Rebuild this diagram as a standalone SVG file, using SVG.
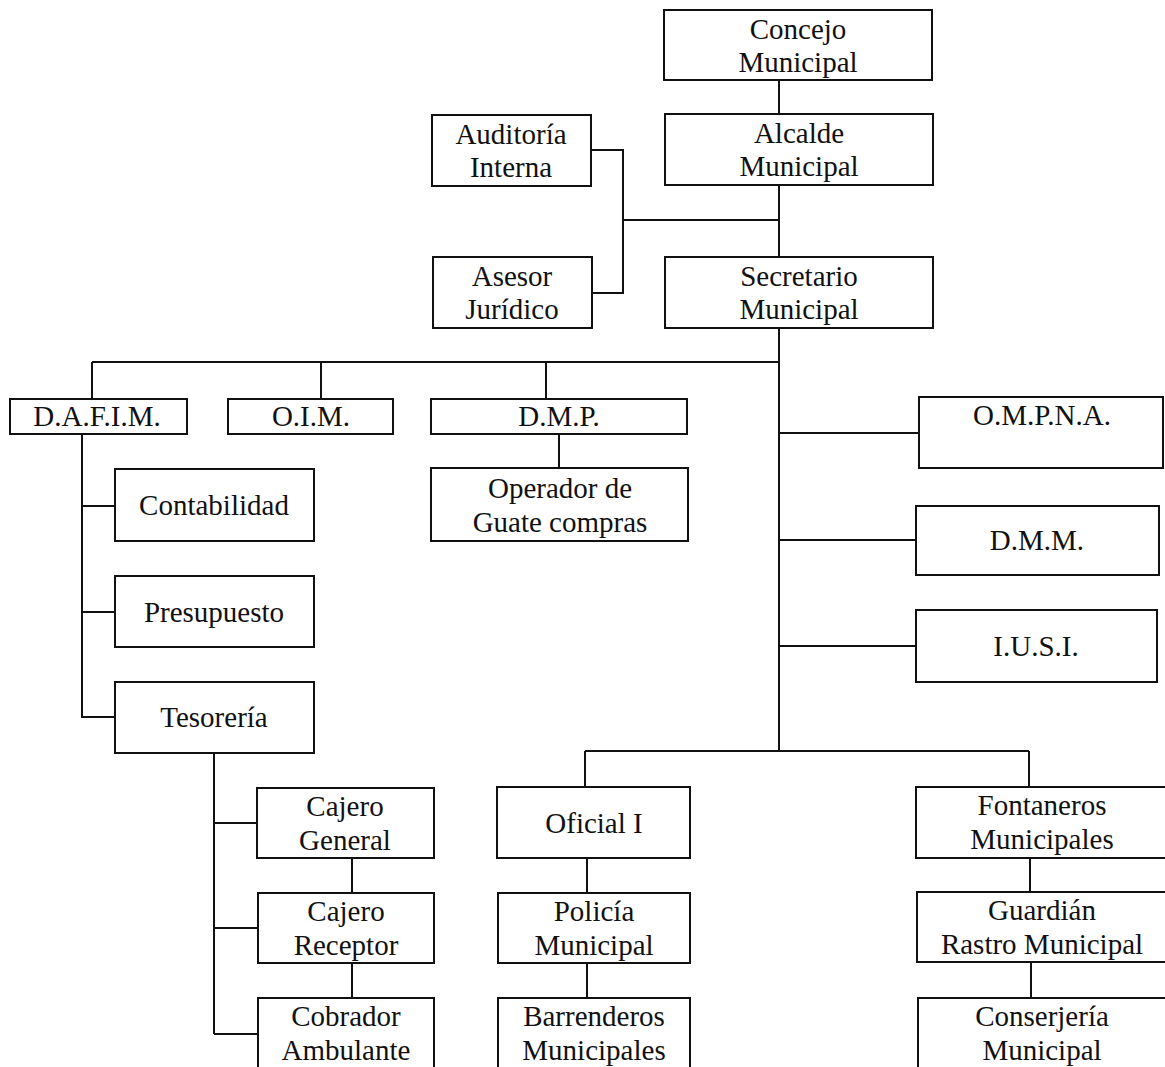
<svg xmlns="http://www.w3.org/2000/svg" width="1165" height="1067" viewBox="0 0 1165 1067">
<style>
  .box { fill: #ffffff; stroke: #111111; stroke-width: 2; }
  .lbl { font-family: "Liberation Serif", "Times New Roman", serif; font-size: 29px; fill: #111111; text-anchor: middle; }
  .conn { fill: none; stroke: #111111; stroke-width: 2; }
</style>
<rect x="0" y="0" width="1165" height="1067" fill="#ffffff"/>
<g id="connectors" class="conn">
  <path d="M779 80 V114"/>
  <path d="M779 185 V257"/>
  <path d="M591 150 H623 V293 H592"/>
  <path d="M623 220 H779"/>
  <path d="M779 328 V751"/>
  <path d="M92 362 H779"/>
  <path d="M92 362 V399"/>
  <path d="M321 362 V399"/>
  <path d="M546 362 V399"/>
  <path d="M559 434 V468"/>
  <path d="M82 434 V718"/>
  <path d="M82 506 H115"/>
  <path d="M82 612 H115"/>
  <path d="M82 717 H115"/>
  <path d="M214 753 V1034"/>
  <path d="M214 823 H257"/>
  <path d="M214 928 H258"/>
  <path d="M214 1034 H258"/>
  <path d="M352 858 V893"/>
  <path d="M352 963 V998"/>
  <path d="M779 433 H919"/>
  <path d="M779 540 H916"/>
  <path d="M779 646 H916"/>
  <path d="M585 751 H1029"/>
  <path d="M585 751 V787"/>
  <path d="M1029 751 V787"/>
  <path d="M587 858 V893"/>
  <path d="M587 963 V998"/>
  <path d="M1030 858 V892"/>
  <path d="M1031 962 V998"/>
</g>
<g id="concejo"><rect class="box" x="664" y="10" width="268" height="70"/><text class="lbl" x="798" y="39">Concejo</text><text class="lbl" x="798" y="72">Municipal</text></g>
<g id="alcalde"><rect class="box" x="665" y="114" width="268" height="71"/><text class="lbl" x="799" y="143">Alcalde</text><text class="lbl" x="799" y="176">Municipal</text></g>
<g id="secretario"><rect class="box" x="665" y="257" width="268" height="71"/><text class="lbl" x="799" y="286">Secretario</text><text class="lbl" x="799" y="319">Municipal</text></g>
<g id="auditoria"><rect class="box" x="432" y="115" width="159" height="71"/><text class="lbl" x="511" y="144">Auditoría</text><text class="lbl" x="511" y="177">Interna</text></g>
<g id="asesor"><rect class="box" x="433" y="257" width="159" height="71"/><text class="lbl" x="512" y="286">Asesor</text><text class="lbl" x="512" y="319">Jurídico</text></g>
<g id="dafim"><rect class="box" x="10" y="399" width="177" height="35"/><text class="lbl" x="97" y="426">D.A.F.I.M.</text></g>
<g id="oim"><rect class="box" x="228" y="399" width="165" height="35"/><text class="lbl" x="311" y="426">O.I.M.</text></g>
<g id="dmp"><rect class="box" x="431" y="399" width="256" height="35"/><text class="lbl" x="559" y="426">D.M.P.</text></g>
<g id="operador"><rect class="box" x="431" y="468" width="257" height="73"/><text class="lbl" x="560" y="498">Operador de</text><text class="lbl" x="560" y="532">Guate compras</text></g>
<g id="contabilidad"><rect class="box" x="115" y="469" width="199" height="72"/><text class="lbl" x="214" y="515">Contabilidad</text></g>
<g id="presupuesto"><rect class="box" x="115" y="576" width="199" height="71"/><text class="lbl" x="214" y="622">Presupuesto</text></g>
<g id="tesoreria"><rect class="box" x="115" y="682" width="199" height="71"/><text class="lbl" x="214" y="727">Tesorería</text></g>
<g id="cajero-general"><rect class="box" x="257" y="788" width="177" height="70"/><text class="lbl" x="345" y="816">Cajero</text><text class="lbl" x="345" y="850">General</text></g>
<g id="cajero-receptor"><rect class="box" x="258" y="893" width="176" height="70"/><text class="lbl" x="346" y="921">Cajero</text><text class="lbl" x="346" y="955">Receptor</text></g>
<g id="cobrador"><rect class="box" x="258" y="998" width="176" height="80"/><text class="lbl" x="346" y="1026">Cobrador</text><text class="lbl" x="346" y="1060">Ambulante</text></g>
<g id="ompna"><rect class="box" x="919" y="397" width="244" height="71"/><text class="lbl" x="1042" y="425">O.M.P.N.A.</text></g>
<g id="dmm"><rect class="box" x="916" y="506" width="243" height="69"/><text class="lbl" x="1037" y="550">D.M.M.</text></g>
<g id="iusi"><rect class="box" x="916" y="610" width="241" height="72"/><text class="lbl" x="1036" y="656">I.U.S.I.</text></g>
<g id="oficial"><rect class="box" x="497" y="787" width="193" height="71"/><text class="lbl" x="594" y="833">Oficial I</text></g>
<g id="policia"><rect class="box" x="498" y="893" width="192" height="70"/><text class="lbl" x="594" y="921">Policía</text><text class="lbl" x="594" y="955">Municipal</text></g>
<g id="barrenderos"><rect class="box" x="498" y="998" width="192" height="80"/><text class="lbl" x="594" y="1026">Barrenderos</text><text class="lbl" x="594" y="1060">Municipales</text></g>
<g id="fontaneros"><rect class="box" x="916" y="787" width="260" height="71"/><text class="lbl" x="1042" y="815">Fontaneros</text><text class="lbl" x="1042" y="849">Municipales</text></g>
<g id="guardian"><rect class="box" x="917" y="892" width="260" height="70"/><text class="lbl" x="1042" y="920">Guardián</text><text class="lbl" x="1042" y="954">Rastro Municipal</text></g>
<g id="conserjeria"><rect class="box" x="918" y="998" width="260" height="80"/><text class="lbl" x="1042" y="1026">Conserjería</text><text class="lbl" x="1042" y="1060">Municipal</text></g>
</svg>
